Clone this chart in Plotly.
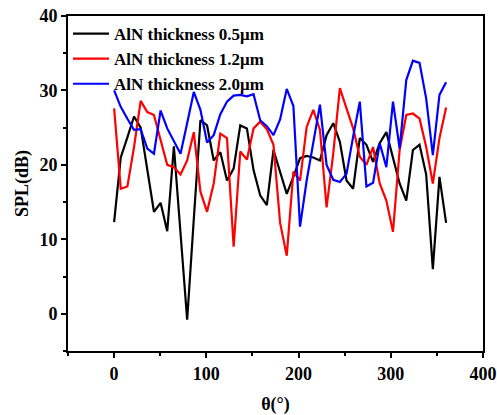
import numpy as np
import plotly.graph_objects as go

theta = [round(7.2 * i, 1) for i in range(51)]

spl_05 = [12.3, 21.0, 23.7, 26.5, 25.0, 19.3, 13.7, 14.9, 11.1, 22.5,
          11.0, -0.8, 12.7, 26.0, 25.3, 20.6, 21.7, 17.9, 19.5, 25.3,
          24.9, 19.3, 15.9, 14.6, 22.0, 19.0, 16.1, 18.4, 20.9, 21.2,
          21.0, 20.6, 24.0, 25.6, 23.1, 17.9, 16.8, 23.6, 22.7, 20.4,
          22.9, 24.4, 20.9, 17.5, 15.2, 22.0, 22.7, 18.7, 6.0, 18.4, 12.2]

spl_12 = [27.6, 16.8, 17.1, 22.4, 28.6, 27.1, 26.7, 23.3, 20.0, 19.7,
          18.7, 20.6, 24.4, 16.4, 13.7, 17.5, 24.2, 23.6, 9.0, 21.8,
          20.7, 24.9, 25.8, 24.8, 22.7, 12.2, 7.8, 19.1, 17.9, 25.1,
          27.4, 24.7, 14.3, 21.5, 30.3, 27.6, 24.9, 21.1, 20.0, 22.4,
          17.5, 15.2, 11.0, 22.0, 26.7, 26.9, 26.2, 22.4, 17.5, 23.6, 27.7]

spl_20 = [30.0, 27.8, 26.2, 24.7, 24.8, 22.2, 21.5, 27.3, 24.9, 23.3,
          21.5, 25.6, 29.8, 27.4, 23.0, 24.0, 26.8, 28.5, 29.3, 29.4,
          29.2, 29.5, 26.0, 25.2, 24.0, 26.1, 30.2, 27.9, 11.7, 17.9,
          23.3, 28.1, 20.0, 18.0, 17.7, 18.8, 23.8, 28.5, 17.1, 17.6,
          22.9, 19.7, 28.5, 22.2, 31.4, 34.0, 33.7, 28.9, 21.3, 29.4, 31.1]

names = ["AlN thickness 0.5\u03bcm", "AlN thickness 1.2\u03bcm", "AlN thickness 2.0\u03bcm"]
colors = ["#000000", "#FF0000", "#0000FF"]

FONT = "Liberation Serif, Times New Roman, serif"

fig = go.Figure()
for ys, nm, c in zip([spl_05, spl_12, spl_20], names, colors):
    fig.add_trace(go.Scatter(x=theta, y=ys, mode="lines", name=nm,
                             line=dict(color=c, width=2.2)))

axis_common = dict(
    showline=True, linecolor="black", linewidth=2, mirror=True,
    ticks="outside", ticklen=5, tickwidth=2, tickcolor="black",
    showgrid=False, zeroline=False, automargin=False,
    tickfont=dict(family=FONT, size=18, color="black", weight="bold"),
)

fig.update_xaxes(range=[-50, 400], tickvals=[0, 100, 200, 300, 400],
                 minor=dict(ticks="outside", ticklen=3, tickwidth=2, tickcolor="black", dtick=50, tick0=0),
                 title=dict(text="\u03b8(\u00b0)", font=dict(family=FONT, size=18, color="black", weight="bold"), standoff=22),
                 **axis_common)
fig.update_yaxes(range=[-5, 40], tickvals=[0, 10, 20, 30, 40],
                 minor=dict(ticks="outside", ticklen=3, tickwidth=2, tickcolor="black", dtick=5, tick0=0),
                 title=dict(text="SPL(dB)", font=dict(family=FONT, size=18, color="black", weight="bold"), standoff=6),
                 **axis_common)

fig.update_layout(
    width=497, height=415,
    margin=dict(l=68, r=14, t=16, b=64),
    plot_bgcolor="white", paper_bgcolor="white",
    font=dict(family=FONT, color="black"),
    legend=dict(x=0.0, y=1.0, xanchor="left", yanchor="top",
                bgcolor="rgba(0,0,0,0)", borderwidth=0,
                font=dict(family=FONT, size=17, color="black", weight="bold"),
                tracegroupgap=0, itemwidth=36),
)

fig.write_html("out.html")
